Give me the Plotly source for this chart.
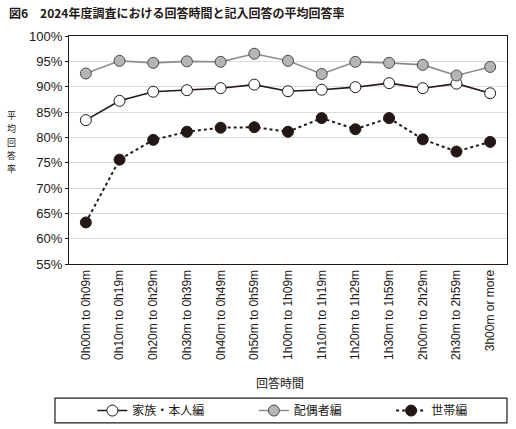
import plotly.graph_objects as go

# --- data ---
categories = [
    "0h00m to 0h09m", "0h10m to 0h19m", "0h20m to 0h29m", "0h30m to 0h39m",
    "0h40m to 0h49m", "0h50m to 0h59m", "1h00m to 1h09m", "1h10m to 1h19m",
    "1h20m to 1h29m", "1h30m to 1h59m", "2h00m to 2h29m", "2h30m to 2h59m",
    "3h00m or more",
]
kazoku = [83.4, 87.2, 89.0, 89.3, 89.7, 90.4, 89.1, 89.4, 89.9, 90.7, 89.7, 90.6, 88.7]
haiguusha = [92.6, 95.1, 94.7, 95.0, 94.9, 96.5, 95.1, 92.5, 94.9, 94.7, 94.3, 92.2, 93.9]
setai = [63.2, 75.6, 79.5, 81.1, 81.9, 82.0, 81.1, 83.8, 81.6, 83.8, 79.6, 77.2, 79.1]
series_names = ["家族・本人編", "配偶者編", "世帯編"]
y_ticks = [55, 60, 65, 70, 75, 80, 85, 90, 95, 100]
y_ticktext = ["55%", "60%", "65%", "70%", "75%", "80%", "85%", "90%", "95%", "100%"]
y_title_chars = ["平", "均", "回", "答", "率"]

JP = "Noto Sans CJK JP"
LAT = "Liberation Sans"
INK = "#231815"

fig = go.Figure()
fig.add_trace(go.Scatter(
    x=categories, y=kazoku, name=series_names[0], mode="lines+markers",
    line=dict(color=INK, width=1.6),
    marker=dict(size=11, color="white", line=dict(color=INK, width=1)),
    legend="legend",
))
fig.add_trace(go.Scatter(
    x=categories, y=haiguusha, name=series_names[1], mode="lines+markers",
    line=dict(color="#8c8c8c", width=1.6),
    marker=dict(size=11, color="#b5b5b5", line=dict(color="#4a4a4a", width=1)),
    legend="legend2",
))
fig.add_trace(go.Scatter(
    x=categories, y=setai, name=series_names[2], mode="lines+markers",
    line=dict(color=INK, width=2, dash="dot"),
    marker=dict(size=11, color=INK, line=dict(color=INK, width=1)),
    legend="legend3",
))

annos = [
    dict(text="<b>図6　2024年度調査における回答時間と記入回答の平均回答率</b>",
         xref="paper", yref="paper", x=-0.142, y=1.105,
         xanchor="left", yanchor="middle", showarrow=False,
         font=dict(family=JP, size=12, color=INK)),
    dict(text="回答時間",
         xref="paper", yref="paper", x=0.482, y=-0.518,
         xanchor="center", yanchor="middle", showarrow=False,
         font=dict(family=JP, size=12, color=INK)),
]
# vertical y-axis title, stacked one character at a time
for i, ch in enumerate(y_title_chars):
    annos.append(dict(
        text=ch, xref="paper", yref="paper", x=-0.132, y=0.651 - i * 0.058,
        xanchor="center", yanchor="middle", showarrow=False,
        font=dict(family=JP, size=9, color=INK)))


def legend_box(x):
    # one single-entry legend per series, so each can be placed on its own
    return dict(
        orientation="h", xref="container", yref="container",
        x=x, xanchor="left", y=0.043, yanchor="middle",
        font=dict(family=JP, size=12, color=INK),
        bgcolor="rgba(0,0,0,0)",
    )


fig.update_layout(
    width=516, height=429,
    margin=dict(l=69, r=9, t=36, b=165, autoexpand=False),
    paper_bgcolor="white", plot_bgcolor="white",
    font=dict(family=LAT, size=13, color=INK),
    showlegend=True,
    legend=legend_box(0.179),
    legend2=legend_box(0.492),
    legend3=legend_box(0.758),
    shapes=[dict(
        type="rect", xref="paper", yref="paper",
        x0=-0.032, x1=1.0, y0=-0.697, y1=-0.588,
        line=dict(color=INK, width=1.2), fillcolor="rgba(0,0,0,0)",
    )],
    annotations=annos,
)

fig.update_xaxes(
    type="category", range=[-0.5, 12.5], tickangle=-90,
    tickfont=dict(family=LAT, size=12, color=INK),
    showgrid=False, showline=True, linecolor=INK, linewidth=1.2, mirror=True,
    ticks="", fixedrange=True, automargin=False,
)
fig.update_yaxes(
    range=[55, 100], tickvals=y_ticks, ticktext=y_ticktext,
    tickfont=dict(family=LAT, size=13, color=INK),
    showgrid=True, gridcolor="#dcdcdc", gridwidth=1,
    showline=True, linecolor=INK, linewidth=1.2, mirror=True,
    ticks="outside", ticklen=3, tickcolor=INK,
    zeroline=False, fixedrange=True, automargin=False,
)

# drop the browser's default body margin so the figure sits at the window origin
fig.write_html("out.html", config={"displayModeBar": False},
               post_script="document.body.style.margin='0px';")
